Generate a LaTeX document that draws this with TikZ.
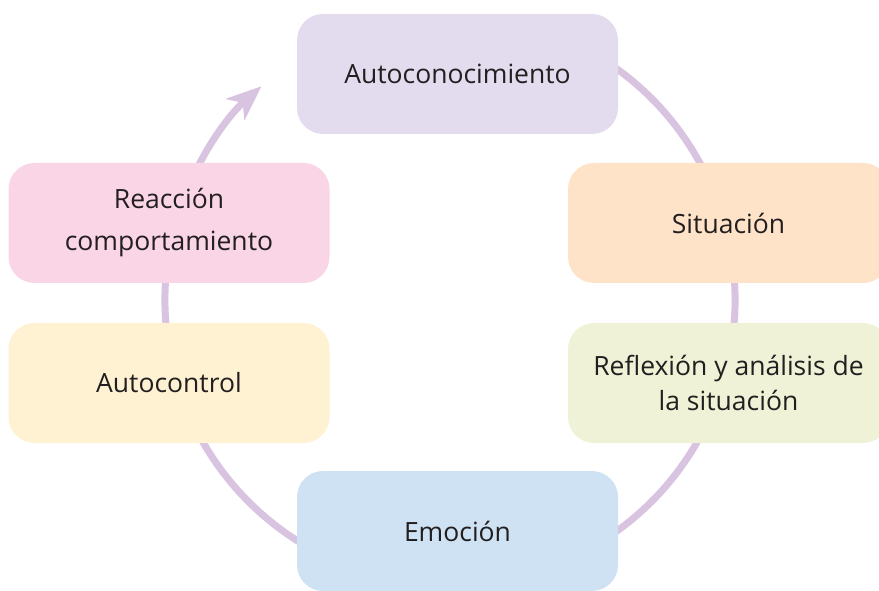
\documentclass[tikz,border=0pt]{standalone}
\usepackage{fontspec}
\setmainfont{Open Sans}
\usetikzlibrary{arrows.meta}
\definecolor{arcc}{HTML}{D8C3E0}
\definecolor{txt}{HTML}{231F20}
\definecolor{cA}{HTML}{E3DBEE}
\definecolor{cS}{HTML}{FEE3C8}
\definecolor{cR}{HTML}{EFF2D6}
\definecolor{cE}{HTML}{CFE2F4}
\definecolor{cC}{HTML}{FEF2D3}
\definecolor{cP}{HTML}{F9D5E6}
\tikzset{
  stage/.style={rounded corners=26pt, minimum width=321pt, minimum height=120pt,
    inner sep=0pt, align=center, text=txt,
    font=\fontsize{26.5}{42}\selectfont},
  tight/.style={font=\fontsize{26.5}{35}\selectfont},
  cyc/.style={draw=arcc, line width=7pt}
}
\begin{document}
\begin{tikzpicture}[x=1pt,y=1pt]
\useasboundingbox (0,0) rectangle (879,590);
\clip (0,0) rectangle (879,590);
\coordinate (c) at (450,290);
\draw[cyc, -{Stealth[length=35pt,width=28pt,inset=10pt]}] (c) ++(70:285) arc[start angle=70, end angle=-228.6, radius=285];
\node[stage, fill=cA] (auto) at (457.5,516) {Autoconocimiento};
\node[stage, fill=cS] (sit) at (728.5,367) {Situación};
\node[stage, tight, fill=cR] (refl) at (728.5,207) {Reflexión y análisis de\\la situación};
\node[stage, fill=cE] (emo) at (457.5,59) {Emoción};
\node[stage, fill=cC] (ctrl) at (169,207) {Autocontrol};
\node[stage, fill=cP] (reac) at (169,367) {Reacción\\comportamiento};
\end{tikzpicture}
\end{document}
